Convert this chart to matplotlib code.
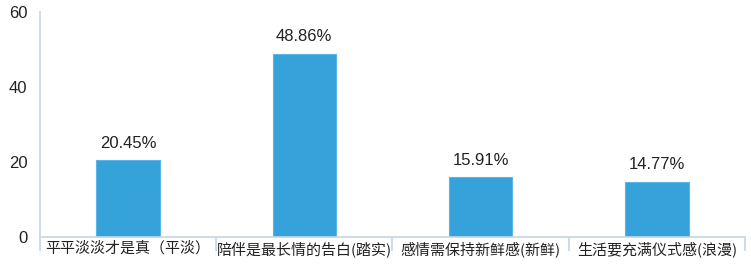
import matplotlib.pyplot as plt
from matplotlib.ticker import FixedLocator

categories = ["平平淡淡才是真（平淡）", "陪伴是最长情的告白(踏实)",
              "感情需保持新鲜感(新鲜)", "生活要充满仪式感(浪漫)"]
values = [20.45, 48.86, 15.91, 14.77]
yticks = [0, 20, 40, 60]

plt.rcParams['font.family'] = ['Liberation Sans', 'Noto Sans CJK SC', 'DejaVu Sans']

fig = plt.figure(figsize=(7.51, 2.66), dpi=100)
ax = fig.add_axes([0.053, 0.109, 0.939, 0.846])

x = range(len(categories))
ax.bar(x, values, width=0.36, color="#35A2DA", edgecolor="#5BB6E6", linewidth=0.8)
for i, v in enumerate(values):
    ax.text(i, v + 2.6, f"{v:.2f}%", ha="center", va="bottom", fontsize=12, color="#222222")

ax.set_xlim(-0.5, len(categories) - 0.5)
ax.set_ylim(0, 60)
ax.set_yticks(yticks)
ax.tick_params(axis="y", length=0, labelsize=12, pad=9, colors="#222222")

ax.set_xticks(list(x))
ax.set_xticklabels(categories, fontsize=10.8,
                   family=['Noto Sans CJK SC', 'DejaVu Sans'])
ax.tick_params(axis="x", which="major", length=0, pad=3, colors="#222222")
ax.xaxis.set_minor_locator(FixedLocator([i - 0.5 for i in range(len(categories) + 1)]))
ax.tick_params(axis="x", which="minor", length=10, color="#C5D5E5", width=1.2)

for s in ["top", "right"]:
    ax.spines[s].set_visible(False)
for s in ["left", "bottom"]:
    ax.spines[s].set_color("#C5D5E5")
    ax.spines[s].set_linewidth(1.2)

fig.savefig("out.png", dpi=100)
